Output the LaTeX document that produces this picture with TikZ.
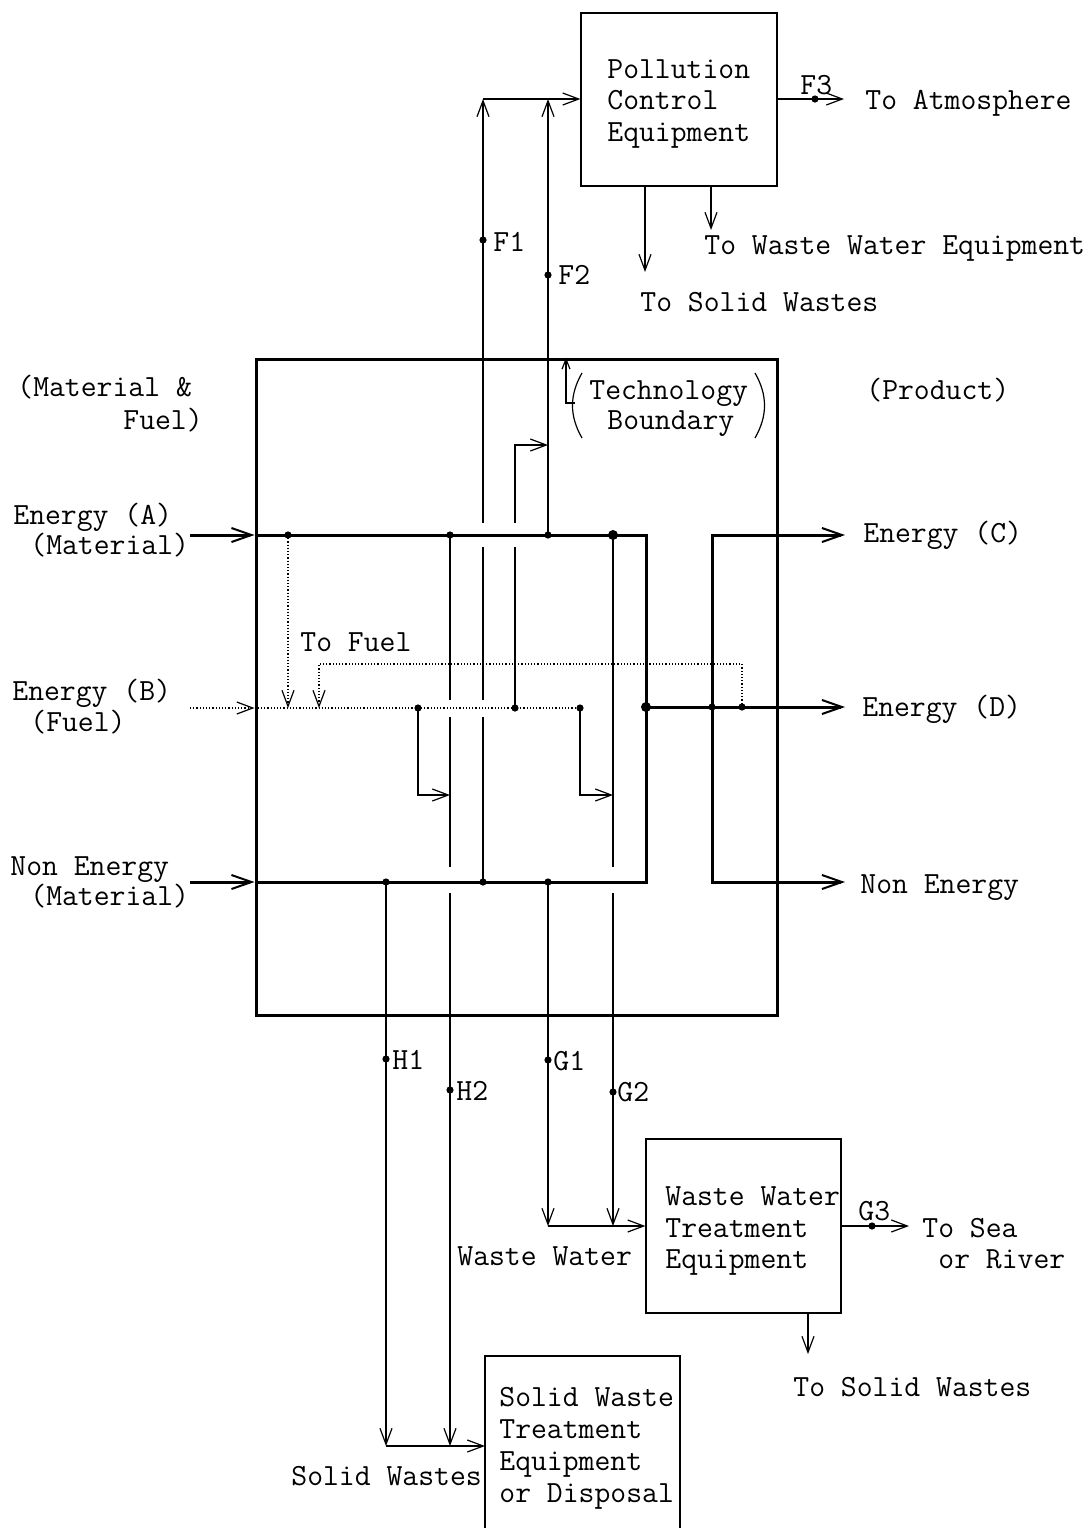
\documentclass[tikz,border=0pt]{standalone}
\usepackage{fontspec}
\usetikzlibrary{arrows.meta}
\begin{document}
\begin{tikzpicture}[x=0.5pt,y=-0.5pt,
  thk/.style={line width=1.5pt},
  thn/.style={line width=0.6pt},
  dotln/.style={line width=0.6pt,densely dotted},
  arr/.style={-{Straight Barb[length=8pt,width=6pt]}},
  tarr/.style={-{Straight Barb[length=10pt,width=7pt,line width=1pt]}},
  boxst/.style={draw,line width=0.6pt,inner sep=0pt},
  jd/.style={circle,fill,inner sep=0pt,minimum size=3.6pt},
  bjd/.style={circle,fill,inner sep=0pt,minimum size=5pt},
  lbl/.style={font=\ttfamily\fontsize{15.4}{15.8}\selectfont,inner sep=0pt,text height=12.4pt,text depth=3pt,anchor=west}]
\useasboundingbox (0,0) rectangle (1092,1528);

% ---------- boxes ----------
\node[draw,line width=1.5pt,inner sep=0pt,minimum width=260.5pt,minimum height=328pt] (tech) at (516.5,687) {};
\node[boxst,minimum width=98pt,minimum height=86.5pt] (pce) at (679,99.5) {};
\node[boxst,minimum width=97.5pt,minimum height=87pt] (ww) at (743.5,1226) {};
\coordinate (swbl) at (485,1528);
\coordinate (swtl) at (485,1356);
\coordinate (swtr) at (680,1356);
\coordinate (swbr) at (680,1528);
\draw[thn] (swbl) -- (swtl) -- (swtr) -- (swbr);

% ---------- junction coordinates ----------
\coordinate (Ain) at (190,535);
\coordinate (Aa) at (288,535);
\coordinate (Ab) at (450,535);
\coordinate (Ac) at (548,535);
\coordinate (Ad) at (613,535);
\coordinate (Ae) at (646,535);
\coordinate (Nin) at (190,882);
\coordinate (N1) at (386,882);
\coordinate (N2) at (483,882);
\coordinate (N3) at (548,882);
\coordinate (Ne) at (646,882);
\coordinate (Bin) at (190,708);
\coordinate (Ba) at (288,708);
\coordinate (Bb) at (319,708);
\coordinate (B1) at (418,708);
\coordinate (B2) at (515,708);
\coordinate (B3) at (580,708);
\coordinate (D0) at (646,707);
\coordinate (D1) at (712,707);
\coordinate (D2) at (742,707);
\coordinate (Dout) at (845,707);
\coordinate (C0) at (712,535);
\coordinate (Cout) at (845,535);
\coordinate (E0) at (712,882);
\coordinate (Eout) at (845,882);
\coordinate (tf) at (319,664);
\coordinate (top) at (483,99);
\coordinate (top2) at (548,99);
\coordinate (b1t) at (418,795);
\coordinate (b3t) at (580,795);
\coordinate (f2t) at (548,445);
\coordinate (h1e) at (386,1446);
\coordinate (h2e) at (450,1446);
\coordinate (g1e) at (548,1226);
\coordinate (g2e) at (613,1226);

% ---------- thick main flows ----------
\draw[thk,tarr] (Ain) -- (tech.west |- Ain);
\draw[thk] (tech.west |- Ain) -- (Ae) -- (Ne) -- (tech.west |- Ne);
\draw[thk,tarr] (Nin) -- (tech.west |- Nin);
\draw[thk,tarr] (D0) -- (Dout);
\draw[thk,{Straight Barb[length=10pt,width=7pt,line width=1pt]}-{Straight Barb[length=10pt,width=7pt,line width=1pt]}] (Cout) -- (C0) -- (E0) -- (Eout);

% ---------- fuel (dotted) ----------
\draw[dotln,arr] (Bin) -- (tech.west |- Bin);
\draw[dotln] (tech.west |- Bin) -- (B3);
\draw[dotln,arr] (Aa) -- (Ba);
\draw[dotln,arr] (D2) |- (tf) -- (Bb);

% ---------- thin vertical streams ----------
% H2
\draw[thn] (Ab) -- (450,700);
\draw[thn] (450,717) -- (450,867);
\draw[thn,arr] (450,893) -- (h2e);
% F1
\draw[thn] (N2) -- (483,717);
\draw[thn] (483,700) -- (483,547);
\draw[thn,arr] (483,523) -- (top);
\draw[thn,arr] (top) -- (pce.west |- top);
% F2
\draw[thn,arr] (Ac) -- (top2);
\draw[thn] (B2) -- (515,547);
\draw[thn,arr] (515,523) |- (f2t);
% G2
\draw[thn] (Ad) -- (613,867);
\draw[thn,arr] (613,893) -- (g2e);
% branches from fuel
\draw[thn,arr] (B1) |- (Ab |- b1t);
\draw[thn,arr] (B3) |- (Ad |- b3t);
% H1, G1
\draw[thn,arr] (N1) -- (h1e);
\draw[thn,arr] (N3) -- (g1e);
% collectors
\draw[thn,arr] (g1e) -- (ww.west |- g1e);
\draw[thn,arr] (h1e) -- (swtl |- h1e);

% ---------- outputs of equipment ----------
\coordinate (atm) at (844,99);
\draw[thn,arr] (pce.east |- atm) -- (atm);
\coordinate (tsw) at (645,272);
\draw[thn,arr] (pce.south -| tsw) -- (tsw);
\coordinate (tww) at (711,230);
\draw[thn,arr] (pce.south -| tww) -- (tww);
\coordinate (sea) at (909,1226);
\draw[thn,arr] (ww.east |- sea) -- (sea);
\coordinate (wsw) at (808,1354);
\draw[thn,arr] (ww.south -| wsw) -- (wsw);

% technology boundary pointer and brackets
\coordinate (tb1) at (575,403);
\coordinate (tb2) at (566,403);
\draw[thn,-{Straight Barb[length=5pt,width=4pt]}] (tb1) -- (tb2) -- (tb2 |- tech.north);
\coordinate (pl1) at (582,373);
\coordinate (pl2) at (582,438);
\coordinate (pr1) at (755,373);
\coordinate (pr2) at (755,438);
\draw[thn] (pl1) to[bend right=30] (pl2);
\draw[thn] (pr1) to[bend left=30] (pr2);

% ---------- dots ----------
\foreach \p in {Aa,Ab,Ac,N1,N2,N3,B1,B2,B3,D1,D2}
  \node[jd] at (\p) {};
\node[bjd] (dAd) at (Ad) {};
\node[bjd] (dD0) at (D0) {};
\node[jd] (dF1) at (483,240) {};
\node[jd] (dF2) at (548,275) {};
\node[jd] (dF3) at (815,99) {};
\node[jd] (dH1) at (386,1059) {};
\node[jd] (dH2) at (450,1090) {};
\node[jd] (dG1) at (548,1060) {};
\node[jd] (dG2) at (613,1092) {};
\node[jd] (dG3) at (872,1226) {};

% ---------- texts ----------
\node[lbl] (l1) at (17,387) {(Material \&};
\node[lbl] (l2) at (123,420) {Fuel)};
\node[lbl] (l3) at (13,515) {Energy (A)};
\node[lbl] (l4) at (30,545) {(Material)};
\node[lbl] (l5) at (12,691) {Energy (B)};
\node[lbl] (l6) at (30,722) {(Fuel)};
\node[lbl] (l7) at (10,866) {Non Energy};
\node[lbl] (l8) at (30,896) {(Material)};
\node[lbl] (r1) at (866,390) {(Product)};
\node[lbl] (r2) at (863,533) {Energy (C)};
\node[lbl] (r3) at (862,707) {Energy (D)};
\node[lbl] (r4) at (860,884) {Non Energy};
\node[lbl] (tofuel) at (300,642) {To Fuel};
\node[lbl] (tb3) at (589,390) {Technology};
\node[lbl] (tb4) at (607,420) {Boundary};
\node[lbl] (p1) at (607,69) {Pollution};
\node[lbl] (p2) at (607,100) {Control};
\node[lbl] (p3) at (607,132) {Equipment};
\node[lbl] (F3) at (800,85) {F3};
\node[lbl] (F1) at (493,242) {F1};
\node[lbl] (F2) at (558,275) {F2};
\node[lbl] (atmt) at (865,100) {To Atmosphere};
\node[lbl] (twwt) at (704,245) {To Waste Water Equipment};
\node[lbl] (tswt) at (640,302) {To Solid Wastes};
\node[lbl] (H1) at (392,1060) {H1};
\node[lbl] (H2) at (456,1091) {H2};
\node[lbl] (G1) at (553,1061) {G1};
\node[lbl] (G2) at (617,1092) {G2};
\node[lbl] (w1) at (665,1196) {Waste Water};
\node[lbl] (w2) at (665,1228) {Treatment};
\node[lbl] (w3) at (665,1259) {Equipment};
\node[lbl] (G3) at (858,1211) {G3};
\node[lbl] (sea1) at (922,1228) {To Sea};
\node[lbl] (sea2) at (938,1259) {or River};
\node[lbl] (wswt) at (793,1387) {To Solid Wastes};
\node[lbl] (wwt) at (457,1256) {Waste Water};
\node[lbl] (s1) at (499,1397) {Solid Waste};
\node[lbl] (s2) at (499,1429) {Treatment};
\node[lbl] (s3) at (499,1461) {Equipment};
\node[lbl] (s4) at (499,1493) {or Disposal};
\node[lbl] (swt) at (291,1476) {Solid Wastes};
\end{tikzpicture}
\end{document}
